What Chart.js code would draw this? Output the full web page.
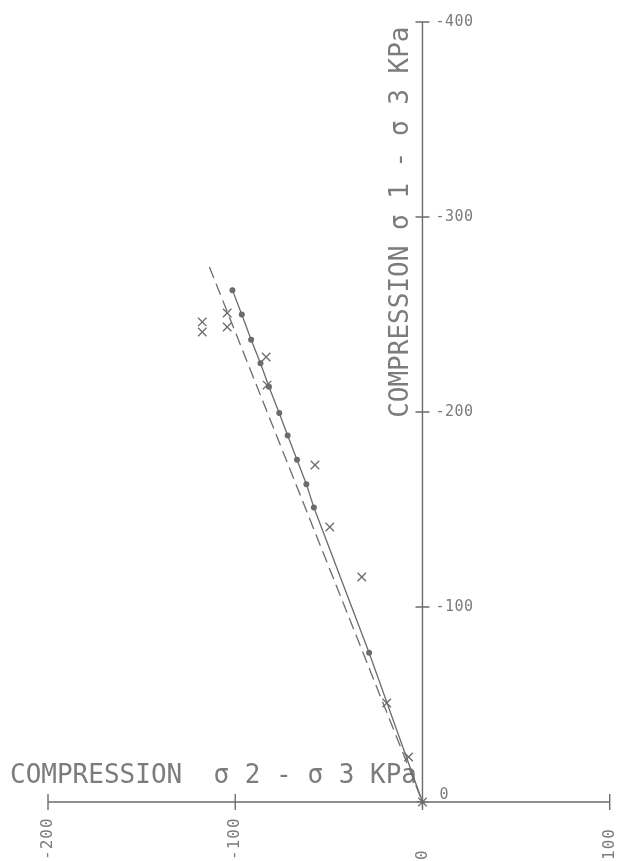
<!DOCTYPE html>
<html>
<head>
<meta charset="utf-8">
<script src="https://cdn.jsdelivr.net/npm/chart.js@4/dist/chart.umd.min.js"></script>
<style>
  html, body { margin: 0; padding: 0; background: #fff; }
  #wrap { width: 617px; height: 861px; position: relative; }
</style>
</head>
<body>
<div id="wrap"><canvas id="c"></canvas></div>
<script>
// axis ticks
const xTicks = [-200, -100, 0, 100];
const yTicks = [0, -100, -200, -300, -400];

// solid fitted line with dot markers (sigma2-sigma3, sigma1-sigma3)
const fitX = [-101.5, -96.5, -91.5, -86.5, -82, -76.5, -72, -67, -62, -58, -28.5, 0];
const fitY = [-262.5, -250, -237, -225, -213, -199.5, -188, -175.5, -163, -151, -76.5, 0];

// dashed line
const dashX = [-113.8, 0];
const dashY = [-274.4, 0];

// measured points (x markers)
const obsX = [-117.6, -117.6, -104.3, -104.3, -83.5, -83, -57.4, -49.5, -32.4, -19.1, -7.4];
const obsY = [-246.2, -241, -250.8, -243.6, -228.2, -213.8, -172.8, -141, -115.4, -50.8, -23.1];

const xTitle = 'COMPRESSION  σ 2 - σ 3 KPa';
const yTitle = 'COMPRESSION σ 1 - σ 3 KPa';

const INK = '#6c6c6c';
const TXT = '#7c7c7c';
const MONO = '"DejaVu Sans Mono", "Liberation Mono", monospace';

const zip = (xs, ys) => xs.map((x, i) => ({ x, y: ys[i] }));

// plotter-style axes, drawn from the chart's own scales
const plotterAxes = {
  id: 'plotterAxes',
  beforeDatasetsDraw(chart) {
    const { ctx, scales: { x, y } } = chart;
    const x0 = x.getPixelForValue(0), y0 = y.getPixelForValue(0);
    ctx.save();
    ctx.strokeStyle = INK;
    ctx.lineWidth = 1.4;

    // horizontal axis
    ctx.beginPath();
    ctx.moveTo(x.getPixelForValue(xTicks[0]), y0);
    ctx.lineTo(x.getPixelForValue(xTicks[xTicks.length - 1]), y0);
    xTicks.forEach(v => {
      const px = x.getPixelForValue(v);
      ctx.moveTo(px, y0 - 8); ctx.lineTo(px, y0 + 8);
    });
    // vertical axis
    ctx.moveTo(x0, y0);
    ctx.lineTo(x0, y.getPixelForValue(yTicks[yTicks.length - 1]));
    yTicks.forEach(v => {
      if (v === 0) return;
      const py = y.getPixelForValue(v);
      ctx.moveTo(x0 - 7, py); ctx.lineTo(x0 + 7, py);
    });
    ctx.stroke();

    ctx.fillStyle = TXT;
    // x tick labels, rotated, reading upward
    ctx.font = '16px ' + MONO;
    ctx.letterSpacing = '1px';
    xTicks.forEach(v => {
      const px = x.getPixelForValue(v);
      ctx.save();
      ctx.translate(px, 860);
      ctx.rotate(-Math.PI / 2);
      ctx.textAlign = 'left';
      ctx.textBaseline = 'middle';
      ctx.fillText(String(v), 0, 0);
      ctx.restore();
    });
    // y tick labels to the right of the axis
    ctx.font = '15px ' + MONO;
    ctx.letterSpacing = '0.5px';
    ctx.textAlign = 'left';
    ctx.textBaseline = 'middle';
    yTicks.forEach(v => {
      const py = y.getPixelForValue(v);
      ctx.fillText(String(v), x0 + (v === 0 ? 17 : 13), v === 0 ? py - 7 : py);
    });

    // titles
    ctx.letterSpacing = '0px';
    ctx.font = '26px ' + MONO;
    ctx.textBaseline = 'alphabetic';
    ctx.fillText(xTitle, 10, y0 - 19);
    ctx.save();
    ctx.translate(x0 - 21, y.getPixelForValue(-197));
    ctx.rotate(-Math.PI / 2);
    ctx.textBaseline = 'middle';
    ctx.fillText(yTitle, 0, 0);
    ctx.restore();
    ctx.restore();
  }
};

new Chart(document.getElementById('c').getContext('2d'), {
  type: 'scatter',
  data: {
    datasets: [
      {
        label: 'dashed',
        data: zip(dashX, dashY),
        showLine: true,
        borderColor: INK,
        borderWidth: 1.3,
        borderDash: [12, 6],
        pointRadius: 0,
        clip: false,
      },
      {
        label: 'fit',
        data: zip(fitX, fitY),
        showLine: true,
        borderColor: INK,
        backgroundColor: INK,
        borderWidth: 1.3,
        pointStyle: c => (c.raw && c.raw.x === 0 && c.raw.y === 0) ? 'star' : 'circle',
        pointRadius: c => (c.raw && c.raw.x === 0 && c.raw.y === 0) ? 6 : 2.4,
        pointBorderWidth: 1.2,
        clip: false,
      },
      {
        label: 'measured',
        data: zip(obsX, obsY),
        showLine: false,
        borderColor: INK,
        pointStyle: 'crossRot',
        pointRadius: 6,
        pointBorderWidth: 1.3,
        clip: false,
      },
    ],
  },
  options: {
    responsive: true,
    maintainAspectRatio: false,
    animation: false,
    layout: { padding: { left: 48, right: 5, top: 22, bottom: 59 } },
    plugins: { legend: { display: false }, tooltip: { enabled: false } },
    scales: {
      x: { type: 'linear', min: -200, max: 100, display: false },
      y: { type: 'linear', min: -400, max: 0, reverse: true, display: false },
    },
  },
  plugins: [plotterAxes],
});
</script>
</body>
</html>
